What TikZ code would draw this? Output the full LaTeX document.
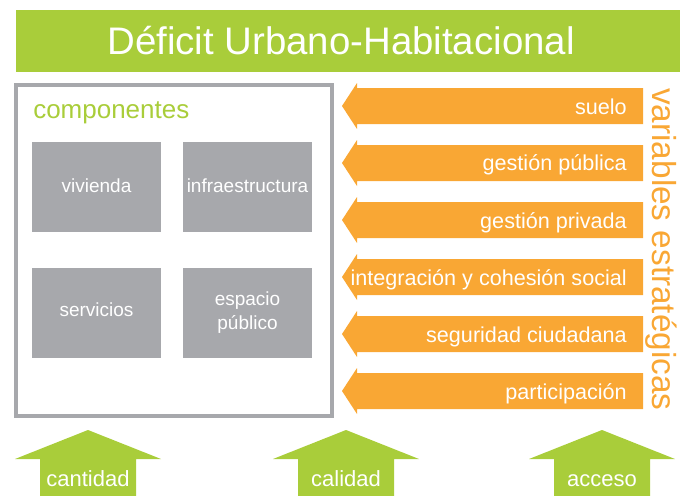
\documentclass[tikz,border=0pt]{standalone}
\usepackage{fontspec}
\setmainfont{Liberation Sans}
\definecolor{verde}{RGB}{169,205,58}
\definecolor{naranja}{RGB}{249,167,52}
\definecolor{gris}{RGB}{167,168,172}
\begin{document}
\begin{tikzpicture}[x=0.75pt,y=0.75pt,yscale=-1,xscale=1,
  comp/.style={fill=gris,draw=none,minimum width=96.75pt,minimum height=67.5pt,inner sep=0.75pt,text=white,align=center,font=\fontsize{14.25}{18}\selectfont},
  var/.style={anchor=base east,inner sep=0.75pt,text=white,font=\fontsize{16.2}{19}\selectfont},
  eje/.style={anchor=base,inner sep=0.75pt,text=white,font=\fontsize{16.5}{20}\selectfont}]
\useasboundingbox (0,0) rectangle (687,496);
% titulo
\fill [verde] (16,10) rectangle (680,72);
\draw (341,41) node [inner sep=0.75pt,text=white,font=\fontsize{28.8}{34}\selectfont] (titulo) {Déficit Urbano-Habitacional};
% componentes
\draw [gris,line width=3pt] (16,85) rectangle (332,416);
\draw (33,118) node [anchor=base west][inner sep=0pt,text=verde,font=\fontsize{19.5}{24}\selectfont] (componentes) {componentes};
\draw (96.5,187) node [comp] (vivienda) {\raisebox{1.5pt}{vivienda}};
\draw (247.5,187) node [comp] (infraestructura) {\raisebox{1.5pt}{infraestructura}};
\draw (96.5,313) node [comp] (servicios) {\raisebox{4.5pt}{servicios}};
\draw (247.5,313) node [comp] (espacio) {espacio\\público};
% variables
\foreach \v [count=\i from 0] in {suelo,gestión pública,gestión privada,integración y cohesión social,seguridad ciudadana,participación}{
  \pgfmathsetmacro\y{106+57*\i}
  \fill [naranja] (643,\y-18) -- (357,\y-18) -- (357,\y-23) -- (342,\y) -- (357,\y+23) -- (357,\y+18) -- (643,\y+18) -- cycle;
  \draw (628,\y+8) node [var] (var\i) {\v};
}
\draw (652,88) node [anchor=base west,rotate=-90][inner sep=0pt,text=naranja,font=\fontsize{25}{29}\selectfont] (variables) {variables estratégicas};
% ejes
\foreach \x/\t in {88/cantidad,346/calidad,602/acceso}{
  \fill [verde] (\x,430) -- (\x+73,459) -- (\x+48,459) -- (\x+48,496) -- (\x-48,496) -- (\x-48,459) -- (\x-73,459) -- cycle;
  \draw (\x,486) node [eje] (\t) {\t};
}
\end{tikzpicture}
\end{document}
